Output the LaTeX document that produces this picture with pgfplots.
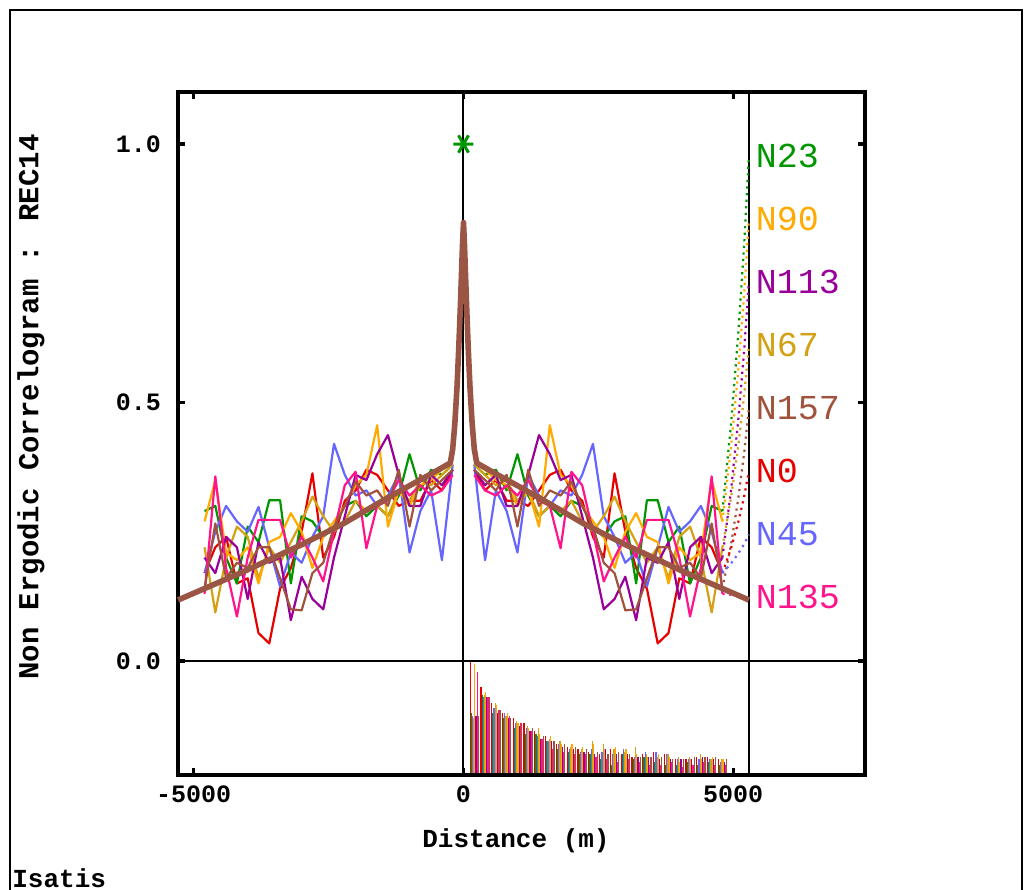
\documentclass[border=0pt]{standalone}
\usepackage{pgfplots}
\pgfplotsset{compat=1.18}
\usepackage{pgfplotstable}
\usepackage{fontspec}
\setmainfont{Liberation Mono}

\definecolor{cNa}{RGB}{230,0,0}
\definecolor{cNb}{RGB}{0,150,0}
\definecolor{cNc}{RGB}{102,102,255}
\definecolor{cNd}{RGB}{212,160,20}
\definecolor{cNe}{RGB}{255,170,0}
\definecolor{cNf}{RGB}{153,0,153}
\definecolor{cNg}{RGB}{255,20,140}
\definecolor{cNh}{RGB}{160,82,60}
\definecolor{cmod}{RGB}{155,85,68}

\pgfplotstableread{
d N0 N23 N45 N67 N90 N113 N135 N157
200 0.37 0.38 0.38 0.38 0.39 0.37 0.36 0.37
400 0.33 0.36 0.195 0.36 0.37 0.34 0.33 0.35
600 0.35 0.37 0.33 0.34 0.35 0.36 0.32 0.33
800 0.31 0.33 0.29 0.35 0.34 0.30 0.34 0.36
1000 0.31 0.40 0.21 0.31 0.30 0.30 0.32 0.26
1200 0.30 0.32 0.36 0.33 0.33 0.36 0.35 0.37
1400 0.33 0.28 0.32 0.28 0.26 0.437 0.31 0.30
1600 0.36 0.30 0.30 0.30 0.456 0.40 0.30 0.33
1800 0.37 0.28 0.33 0.29 0.36 0.35 0.218 0.32
2000 0.33 0.31 0.32 0.31 0.34 0.36 0.366 0.347
2200 0.31 0.30 0.36 0.27 0.30 0.28 0.34 0.30
2400 0.24 0.26 0.42 0.25 0.27 0.20 0.25 0.26
2600 0.20 0.24 0.28 0.28 0.24 0.10 0.154 0.19
2800 0.363 0.27 0.24 0.318 0.18 0.12 0.20 0.17
3000 0.25 0.28 0.19 0.27 0.25 0.163 0.24 0.098
3200 0.18 0.15 0.21 0.23 0.286 0.079 0.20 0.10
3400 0.14 0.311 0.144 0.19 0.24 0.20 0.273 0.16
3600 0.034 0.311 0.22 0.22 0.23 0.19 0.273 0.22
3800 0.054 0.23 0.298 0.16 0.15 0.23 0.273 0.22
4000 0.16 0.26 0.25 0.24 0.22 0.12 0.20 0.18
4200 0.15 0.15 0.27 0.26 0.195 0.22 0.086 0.19
4400 0.24 0.20 0.30 0.20 0.21 0.24 0.18 0.16
4600 0.22 0.30 0.25 0.094 0.35 0.17 0.357 0.266
4800 0.17 0.29 0.17 0.22 0.27 0.20 0.13 0.14
}\corr

\pgfplotstableread{
d N0 N23 N45 N67 N90 N113 N135 N157
200 0.22 0.12 0.115 0.11 0.215 0.115 0.20 0.115
400 0.17 0.155 0.15 0.155 0.16 0.15 0.15 0.15
600 0.14 0.12 0.13 0.14 0.135 0.12 0.125 0.125
800 0.12 0.11 0.12 0.115 0.12 0.11 0.115 0.11
1000 0.11 0.09 0.10 0.105 0.10 0.095 0.10 0.10
1200 0.10 0.08 0.09 0.095 0.09 0.085 0.085 0.09
1400 0.085 0.08 0.075 0.09 0.08 0.07 0.07 0.075
1600 0.075 0.065 0.065 0.07 0.075 0.065 0.05 0.065
1800 0.06 0.05 0.06 0.065 0.06 0.055 0.045 0.06
2000 0.055 0.045 0.05 0.055 0.06 0.05 0.04 0.055
2200 0.05 0.04 0.045 0.05 0.055 0.045 0.04 0.05
2400 0.045 0.04 0.05 0.065 0.06 0.04 0.035 0.045
2600 0.04 0.03 0.045 0.06 0.05 0.05 0.03 0.04
2800 0.05 0.02 0.04 0.05 0.055 0.04 0.025 0.045
3000 0.04 0.04 0.05 0.045 0.05 0.04 0.03 0.04
3200 0.035 0.03 0.035 0.055 0.04 0.035 0.025 0.035
3400 0.04 0.035 0.045 0.04 0.035 0.035 0.02 0.035
3600 0.045 0.025 0.045 0.035 0.04 0.03 0.02 0.035
3800 0.04 0.02 0.04 0.04 0.035 0.03 0.025 0.03
4000 0.03 0.02 0.03 0.035 0.025 0.03 0.015 0.03
4200 0.03 0.025 0.03 0.035 0.03 0.03 0.02 0.035
4400 0.035 0.02 0.03 0.04 0.03 0.035 0.025 0.035
4600 0.035 0.025 0.03 0.03 0.035 0.03 0.02 0.035
4800 0.03 0.02 0.025 0.03 0.03 0.025 0.02 0.03
}\npairs

\pgfplotstableread{
d v
-5290 0.118
-4074 0.173
-3000 0.225
-2221 0.266
-1500 0.310
-986 0.340
-600 0.362
-245 0.383
-200 0.41
-160 0.46
-120 0.53
-90 0.60
-60 0.68
-40 0.74
-20 0.80
0 0.848
20 0.80
40 0.74
60 0.68
90 0.60
120 0.53
160 0.46
200 0.41
245 0.383
600 0.362
986 0.340
1500 0.310
2221 0.266
3000 0.225
4074 0.173
5290 0.118
}\model

\pgfplotsset{
  expline/.style={line width=1.1pt, line join=round, no marks},
  leadline/.style={line width=1.1pt, dash pattern=on 1.1pt off 2.2pt, no marks},
  pairbar/.style={ycomb, no marks, line width=0.6pt},
}
\tikzset{lab/.style={anchor=west, font=\fontsize{17.5}{20}\selectfont}}

\begin{document}
\begin{tikzpicture}
\path[use as bounding box] (-89pt,-57.5pt) rectangle (423.5pt,387.5pt);
\draw[line width=1pt] (-84pt,-70pt) -- (-84pt,382.5pt) -- (422pt,382.5pt) -- (422pt,-70pt);

% histogram of pair counts
\begin{axis}[at={(0,0)}, anchor=south west, scale only axis,
  width=343.5pt, height=341.5pt,
  xmin=-5292, xmax=7442, ymin=0, ymax=1.3206,
  hide axis, clip=false]
\addplot[pairbar, cNa] table[x expr=\thisrow{d}-77, y=N0] {\npairs};
\addplot[pairbar, cNb] table[x expr=\thisrow{d}-55, y=N23] {\npairs};
\addplot[pairbar, cNc] table[x expr=\thisrow{d}-33, y=N45] {\npairs};
\addplot[pairbar, cNd] table[x expr=\thisrow{d}-11, y=N67] {\npairs};
\addplot[pairbar, cNe] table[x expr=\thisrow{d}+11, y=N90] {\npairs};
\addplot[pairbar, cNf] table[x expr=\thisrow{d}+33, y=N113] {\npairs};
\addplot[pairbar, cNg] table[x expr=\thisrow{d}+55, y=N135] {\npairs};
\addplot[pairbar, cNh] table[x expr=\thisrow{d}+77, y=N157] {\npairs};
\end{axis}

\begin{axis}[at={(0,0)}, anchor=south west, scale only axis,
  width=343.5pt, height=341.5pt,
  xmin=-5292, xmax=7442, ymin=-0.2205, ymax=1.1006,
  clip=false,
  axis line style={line width=1.6pt},
  tick align=inside, major tick length=3.5pt,
  tick style={line width=1.6pt, black},
  xtick={-5000,0,5000}, xticklabels={-5000,0,5000},
  ytick={0,0.5,1}, yticklabels={0.0,0.5,1.0},
  xticklabel style={font=\bfseries\fontsize{12.5}{14}\selectfont, yshift=-2pt},
  yticklabel style={font=\bfseries\fontsize{12.5}{14}\selectfont, xshift=-5pt},
]
\addplot[black, line width=1pt, no marks] coordinates {(-5292,0) (7442,0)};
\addplot[black, line width=1pt, no marks] coordinates {(0,-0.2205) (0,1.1006)};
\addplot[black, line width=1pt, no marks] coordinates {(5290,-0.2205) (5290,1.1006)};

% experimental correlograms (symmetric)
\addplot[expline, cNa] table[x=d, y=N0] {\corr};
\addplot[expline, cNa] table[x expr=-\thisrow{d}, y=N0] {\corr};
\addplot[expline, cNb] table[x=d, y=N23] {\corr};
\addplot[expline, cNb] table[x expr=-\thisrow{d}, y=N23] {\corr};
\addplot[expline, cNc] table[x=d, y=N45] {\corr};
\addplot[expline, cNc] table[x expr=-\thisrow{d}, y=N45] {\corr};
\addplot[expline, cNd] table[x=d, y=N67] {\corr};
\addplot[expline, cNd] table[x expr=-\thisrow{d}, y=N67] {\corr};
\addplot[expline, cNe] table[x=d, y=N90] {\corr};
\addplot[expline, cNe] table[x expr=-\thisrow{d}, y=N90] {\corr};
\addplot[expline, cNf] table[x=d, y=N113] {\corr};
\addplot[expline, cNf] table[x expr=-\thisrow{d}, y=N113] {\corr};
\addplot[expline, cNg] table[x=d, y=N135] {\corr};
\addplot[expline, cNg] table[x expr=-\thisrow{d}, y=N135] {\corr};
\addplot[expline, cNh] table[x=d, y=N157] {\corr};
\addplot[expline, cNh] table[x expr=-\thisrow{d}, y=N157] {\corr};

% leader dotted lines
\addplot[leadline, cNb] coordinates {(4800,0.29) (4962,0.462) (5094,0.634) (5202,0.805) (5290,0.977)};
\addplot[leadline, cNe] coordinates {(4800,0.27) (4962,0.416) (5094,0.563) (5202,0.709) (5290,0.855)};
\addplot[leadline, cNf] coordinates {(4800,0.20) (4962,0.333) (5094,0.467) (5202,0.600) (5290,0.733)};
\addplot[leadline, cNd] coordinates {(4800,0.22) (4962,0.318) (5094,0.416) (5202,0.513) (5290,0.611)};
\addplot[leadline, cNh] coordinates {(4800,0.14) (4962,0.227) (5094,0.315) (5202,0.402) (5290,0.489)};
\addplot[leadline, cNa] coordinates {(4800,0.17) (4962,0.219) (5094,0.269) (5202,0.318) (5290,0.367)};
\addplot[leadline, cNc] coordinates {(4800,0.17) (4962,0.189) (5094,0.208) (5202,0.226) (5290,0.245)};
\addplot[leadline, cNg] coordinates {(4800,0.13) (4962,0.128) (5094,0.127) (5202,0.125) (5290,0.123)};

% model
\addplot[cmod, line width=2.8pt, line join=round, no marks] table[x=d, y=v] {\model};

% C(0)
\addplot[only marks, mark=asterisk, mark size=5pt, cNb, mark options={rotate=90, line width=1.5pt}] coordinates {(0,1.0)};

% labels
\node[lab, text=cNb] at (axis cs:5290,0.977) {N23};
\node[lab, text=cNe] at (axis cs:5290,0.855) {N90};
\node[lab, text=cNf] at (axis cs:5290,0.733) {N113};
\node[lab, text=cNd] at (axis cs:5290,0.611) {N67};
\node[lab, text=cNh] at (axis cs:5290,0.489) {N157};
\node[lab, text=cNa] at (axis cs:5290,0.367) {N0};
\node[lab, text=cNc] at (axis cs:5290,0.245) {N45};
\node[lab, text=cNg] at (axis cs:5290,0.123) {N135};
\end{axis}

\node[font=\bfseries\fontsize{13}{15}\selectfont] at (169pt,-33pt) {Distance (m)};
\node[rotate=90, font=\bfseries\fontsize{14.5}{16}\selectfont] at (-73.5pt,184pt) {Non Ergodic Correlogram : REC14};
\node[anchor=west, inner sep=0pt, font=\bfseries\fontsize{13}{15}\selectfont] at (-83pt,-51.5pt) {Isatis};
\end{tikzpicture}
\end{document}
